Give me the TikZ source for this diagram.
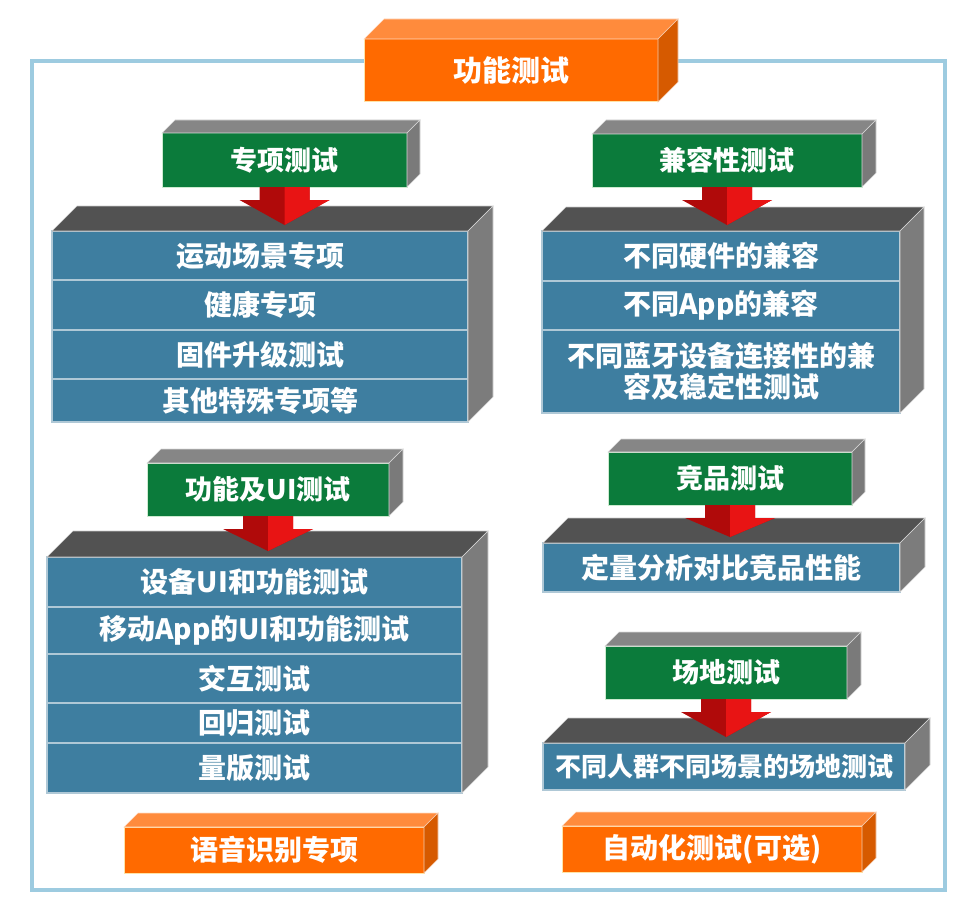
\documentclass[tikz,border=0pt]{standalone}
\usepackage{fontspec}
\newfontfamily\cjk{Noto Sans CJK SC}
\usepackage{xcolor}
\usetikzlibrary{positioning,calc}
\definecolor{framecol}{HTML}{9DCBE0}
\definecolor{orfront}{HTML}{FF6A00}
\definecolor{ortop}{HTML}{FF8B3C}
\definecolor{orside}{HTML}{D65A00}
\definecolor{oredge}{HTML}{FFE3A6}
\definecolor{grfront}{HTML}{0B7B3B}
\definecolor{gredge}{HTML}{CDEBD0}
\definecolor{rowblue}{HTML}{3E7EA0}
\definecolor{rowline}{HTML}{AFC8D6}
\definecolor{slabtop}{HTML}{525252}
\definecolor{slabside}{HTML}{7C7C7C}
\definecolor{headtop}{HTML}{868686}
\definecolor{headside}{HTML}{7A7A7A}
\definecolor{arrowdark}{HTML}{B00A0A}
\definecolor{arrowlight}{HTML}{E81414}
% top and side faces of a block: top node, bottom node, depth, top colour, side colour
\newcommand{\slab}[5]{%
  \filldraw[#4, draw=white!70!#4, line width=0.6pt] (#1.north west) -- ++(#3,-#3)
    -- ($(#1.north east)+(#3,-#3)$) -- (#1.north east) -- cycle;
  \filldraw[#5, draw=white!70!#5, line width=0.6pt] (#1.north east) -- ++(#3,-#3)
    -- ($(#2.south east)+(#3,-#3)$) -- (#2.south east) -- cycle;
}
% red block arrow from a header down to its first row
\newcommand{\pointer}[2]{%
  \fill[arrowdark] ($(#1.south)+(-25,0)$) -- ($(#1.south)+(25,0)$) -- ($(#1.south)+(25,13)$)
    -- ($(#1.south)+(45,13)$) -- ($(#1.south |- #2.north)+(0,-6)$)
    -- ($(#1.south)+(-45,13)$) -- ($(#1.south)+(-25,13)$) -- cycle;
  \fill[arrowlight] (#1.south) -- ($(#1.south)+(25,0)$) -- ($(#1.south)+(25,13)$)
    -- ($(#1.south)+(45,13)$) -- ($(#1.south |- #2.north)+(0,-6)$) -- cycle;
}
\begin{document}
\begin{tikzpicture}[x=1pt, y=-1pt,
  txt/.style={text=white, inner sep=0pt, outer sep=0pt, align=center,
    font=\cjk\bfseries\fontsize{27}{31}\selectfont},
  title/.style={txt, fill=orfront, draw=oredge, line width=1pt},
  head/.style={txt, fill=grfront, draw=gredge, line width=1pt, minimum height=53pt},
  row/.style={txt, fill=rowblue, draw=rowline, line width=1.2pt,
    font=\cjk\bfseries\fontsize{28}{31}\selectfont}
]
  \useasboundingbox (0,0) rectangle (977,923);
  \draw[framecol, line width=4.5pt] (32,61) rectangle (945,890);

  % title
  \node[title, font=\cjk\bfseries\fontsize{29}{32}\selectfont, minimum width=294pt,
    minimum height=63pt] (main) at (511,70.5) {功能测试};
  \slab{main}{main}{20}{ortop}{orside}

  % left upper block
  \node[head, minimum width=245pt, minimum height=54pt] (spec) at (284.5,160) {专项测试};
  \slab{spec}{spec}{13}{headtop}{headside}
  \node[row, anchor=north west, minimum width=416pt, minimum height=49pt] (sp1) at (52,231) {运动场景专项};
  \node[row, below=0pt of sp1, minimum width=416pt, minimum height=50pt] (sp2) {健康专项};
  \node[row, below=0pt of sp2, minimum width=416pt, minimum height=49pt] (sp3) {固件升级测试};
  \node[row, below=0pt of sp3, minimum width=416pt, minimum height=43pt] (sp4) {其他特殊专项等};
  \slab{sp1}{sp4}{25}{slabtop}{slabside}
  \pointer{spec}{sp1}

  % left lower block
  \node[head, minimum width=242pt] (func) at (268,489.5) {功能及UI测试};
  \slab{func}{func}{14}{headtop}{headside}
  \node[row, anchor=north west, minimum width=415pt, minimum height=50pt] (fu1) at (47,557) {设备UI和功能测试};
  \node[row, below=0pt of fu1, minimum width=415pt, minimum height=47pt] (fu2) {移动App的UI和功能测试};
  \node[row, below=0pt of fu2, minimum width=415pt, minimum height=49pt] (fu3) {交互测试};
  \node[row, below=0pt of fu3, minimum width=415pt, minimum height=40pt] (fu4) {回归测试};
  \node[row, below=0pt of fu4, minimum width=415pt, minimum height=50pt] (fu5) {量版测试};
  \slab{fu1}{fu5}{26}{slabtop}{slabside}
  \pointer{func}{fu1}

  % right upper block
  \node[head, minimum width=270pt] (comp) at (727,160.5) {兼容性测试};
  \slab{comp}{comp}{14}{headtop}{headside}
  \node[row, anchor=north west, minimum width=358pt, minimum height=50pt] (co1) at (542,231) {不同硬件的兼容};
  \node[row, below=0pt of co1, minimum width=358pt, minimum height=49pt] (co2) {不同App的兼容};
  \node[row, below=0pt of co2, minimum width=358pt, minimum height=83pt] (co3) {不同蓝牙设备连接性的兼\\容及稳定性测试};
  \slab{co1}{co3}{24}{slabtop}{slabside}
  \pointer{comp}{co1}

  % right middle block
  \node[head, minimum width=244pt] (rival) at (730,478.5) {竞品测试};
  \slab{rival}{rival}{13}{headtop}{headside}
  \node[row, anchor=north west, minimum width=357pt, minimum height=49pt] (ri1) at (543,543) {定量分析对比竞品性能};
  \slab{ri1}{ri1}{25}{slabtop}{slabside}
  \pointer{rival}{ri1}

  % right lower block
  \node[head, minimum width=242pt] (site) at (726,672.5) {场地测试};
  \slab{site}{site}{14}{headtop}{headside}
  \node[row, anchor=north west, minimum width=362pt, minimum height=47pt,
    font=\cjk\bfseries\fontsize{26}{30}\selectfont] (si1) at (543,743) {不同人群不同场景的场地测试};
  \slab{si1}{si1}{25}{slabtop}{slabside}
  \pointer{site}{si1}

  % bottom boxes
  \node[title, font=\cjk\bfseries\fontsize{28}{32}\selectfont, minimum width=300pt,
    minimum height=46pt] (voice) at (274,850) {语音识别专项};
  \slab{voice}{voice}{14}{ortop}{orside}
  \node[title, font=\cjk\bfseries\fontsize{28}{32}\selectfont, minimum width=300pt,
    minimum height=46pt] (auto) at (712,849) {自动化测试(可选)};
  \slab{auto}{auto}{14}{ortop}{orside}
\end{tikzpicture}
\end{document}
